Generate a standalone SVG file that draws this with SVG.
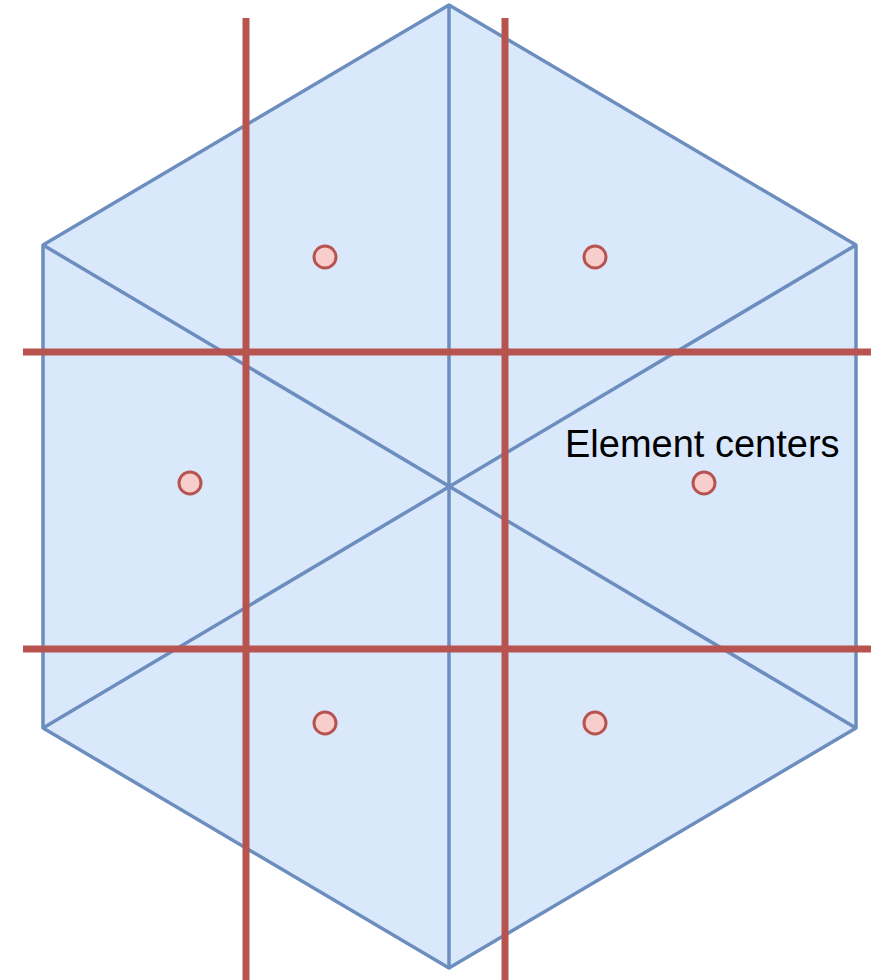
<svg xmlns="http://www.w3.org/2000/svg" width="871" height="980" viewBox="0 0 871 980">
<style>
.mesh{fill:#dae8fc;stroke:#6c8ebf;stroke-width:3.5;stroke-linejoin:round}
.edge{fill:none;stroke:#6c8ebf;stroke-width:3.5}
.grid{fill:none;stroke:#b85450;stroke-width:7}
.ctr{fill:#f8cecc;stroke:#b85450;stroke-width:3}
.lbl{font-family:"Liberation Sans",Arial,sans-serif;font-size:38px;fill:#000}
</style>
<rect width="871" height="980" fill="#fff"/>
<g id="hexagon">
<polygon class="mesh" points="449,5 856,245 856,728 449,968 43,728 43,245"/>
</g>
<g id="connectors">
<line class="edge" x1="449" y1="5" x2="449" y2="968"/>
<line class="edge" x1="43" y1="245" x2="856" y2="728"/>
<line class="edge" x1="856" y1="245" x2="43" y2="728"/>
</g>
<g id="grid">
<line class="grid" x1="246" y1="18" x2="246" y2="980"/>
<line class="grid" x1="505" y1="18" x2="505" y2="980"/>
<line class="grid" x1="23" y1="352" x2="871" y2="352"/>
<line class="grid" x1="23" y1="649" x2="871" y2="649"/>
</g>
<g id="c1"><circle class="ctr" cx="325" cy="257" r="11"/></g>
<g id="c2"><circle class="ctr" cx="595" cy="257" r="11"/></g>
<g id="c3"><circle class="ctr" cx="190" cy="483" r="11"/></g>
<g id="c4"><circle class="ctr" cx="704" cy="483" r="11"/></g>
<g id="c5"><circle class="ctr" cx="325" cy="723" r="11"/></g>
<g id="c6"><circle class="ctr" cx="595" cy="723" r="11"/></g>
<g id="label"><text class="lbl" x="565" y="457">Element centers</text></g>
</svg>
